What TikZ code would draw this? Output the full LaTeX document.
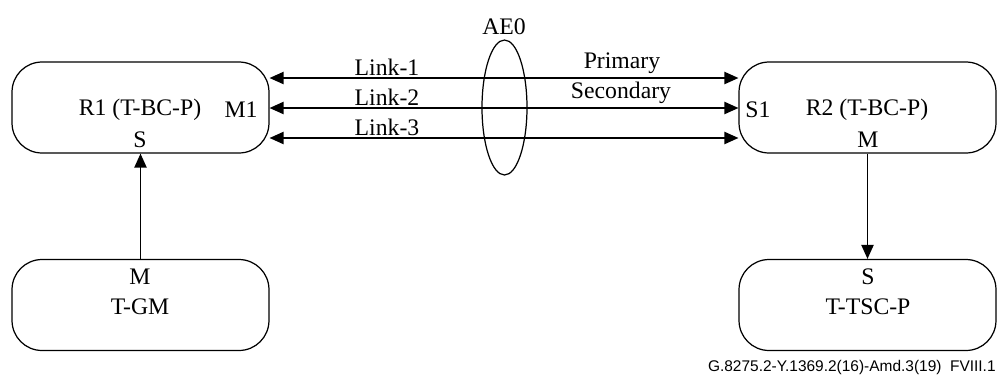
\documentclass[tikz,border=0pt]{standalone}
\usepackage{fontspec}
\setmainfont{Liberation Serif}
\newfontfamily\footfont{Liberation Sans}
\usetikzlibrary{arrows.meta,shapes.geometric}

\tikzset{
  clockbox/.style={shape=rectangle,draw=black,line width=0.7pt,rounded corners=0.6cm,
    minimum width=5.14cm,minimum height=1.82cm,inner sep=0pt},
  lbl/.style={inner sep=0pt,font=\fontsize{13.5}{15}\selectfont},
  link/.style={{Triangle[length=8pt,width=7pt]}-{Triangle[length=8pt,width=7pt]},line width=0.8pt},
  feed/.style={-{Triangle[length=8pt,width=7pt]},line width=0.8pt}
}

\begin{document}
\begin{tikzpicture}[x=0.02cm,y=-0.02cm]
        \useasboundingbox (0,0) rectangle (998,376);
        % clocks
        \node[clockbox] (R1) at (140.5,107.5) {};
        \node[clockbox] (R2) at (867.5,107.5) {};
        \node[clockbox] (GM) at (140.5,305) {};
        \node[clockbox] (TSC) at (867.5,305) {};
        % texts in the boxes
        \node[lbl] (R1name) at (140,110) {R1 (T-BC-P)};
        \node[lbl] (R1port) at (241,110) {M1};
        \node[lbl] (R1s) at (140,140) {S};
        \node[lbl] (R2port) at (758,110) {S1};
        \node[lbl] (R2name) at (867,110) {R2 (T-BC-P)};
        \node[lbl] (R2m) at (868,140) {M};
        \node[lbl] (GMm) at (140,277) {M};
        \node[lbl] (GMname) at (140,307) {T-GM};
        \node[lbl] (TSCs) at (868,277) {S};
        \node[lbl] (TSCname) at (868,307) {T-TSC-P};
        % links
        \path [link] ([yshift=0.59cm]R1.east) edge ([yshift=0.59cm]R2.west);
        \path [link] ([yshift=-0.01cm]R1.east) edge ([yshift=-0.01cm]R2.west);
        \path [link] ([yshift=-0.61cm]R1.east) edge ([yshift=-0.61cm]R2.west);
        \node[lbl] (lk1) at (387,67) {Link-1};
        \node[lbl] (lk2) at (387,97) {Link-2};
        \node[lbl] (lk3) at (387,127) {Link-3};
        \node[lbl] (prim) at (622,63) {Primary};
        \node[lbl] (sec) at (621,93) {Secondary};
        % aggregation
        \node[shape=ellipse,draw=black,line width=0.7pt,minimum width=0.9cm,minimum height=2.7cm,inner sep=0pt] (ae0) at (504.5,107.5) {};
        \node[lbl] (ae0name) at (504,27) {AE0};
        % timing feeds
        \path [feed] (GM.north) edge (R1.south);
        \path [feed] (R2.south) edge (TSC.north);
        \node[inner sep=0pt,anchor=east,font=\footfont\fontsize{8.8}{10}\selectfont] (fig) at (996,367) {G.8275.2-Y.1369.2(16)-Amd.3(19)\ \ FVIII.1};
    \end{tikzpicture}
\end{document}
